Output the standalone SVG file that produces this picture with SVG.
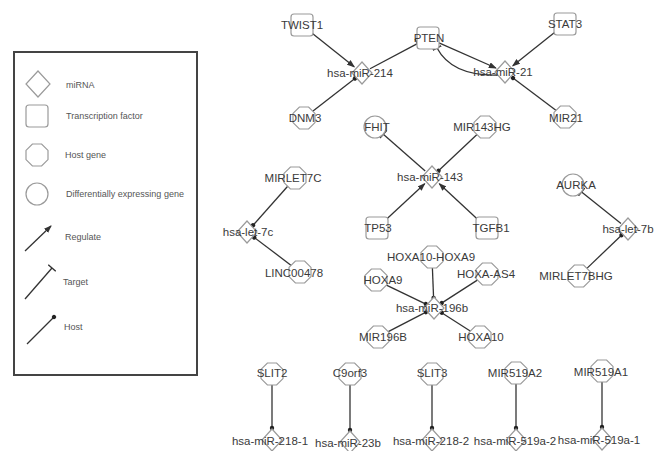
<svg xmlns="http://www.w3.org/2000/svg" width="667" height="451" viewBox="0 0 667 451">
<style>
.node{fill:#fff;stroke:#9a9a9a;stroke-width:1.2}
.lbl{font-family:"Liberation Sans",Arial,sans-serif;font-size:11.5px;fill:#3a3a3a;text-anchor:middle;dominant-baseline:central}
.leg{font-family:"Liberation Sans",Arial,sans-serif;font-size:9px;fill:#555;dominant-baseline:central}
.e{stroke:#333;stroke-width:1.3;fill:none}
.reg{marker-end:url(#arr)}
.tgt{marker-end:url(#tbar)}
.hst{marker-end:url(#dot)}
</style>
<defs>
<marker id="arr" markerUnits="userSpaceOnUse" markerWidth="8" markerHeight="6" refX="7" refY="3" orient="auto"><path d="M0,0 L8,3 L0,6 z" fill="#333"/></marker>
<marker id="tbar" markerUnits="userSpaceOnUse" markerWidth="4" markerHeight="10" refX="2" refY="5" orient="auto"><path d="M2,0 L2,10" stroke="#333" stroke-width="1.4"/></marker>
<marker id="dot" markerUnits="userSpaceOnUse" markerWidth="6" markerHeight="6" refX="3" refY="3" orient="auto"><circle cx="3" cy="3" r="2.2" fill="#222"/></marker>
<polygon id="oct" points="-4.6,-11 4.6,-11 11,-4.6 11,4.6 4.6,11 -4.6,11 -11,4.6 -11,-4.6"/>
<polygon id="dia" points="0,-11 10,0 0,11 -10,0"/>
<rect id="sq" x="-11" y="-11" width="22" height="22" rx="3"/>
<circle id="cir" r="11"/>
</defs>
<rect width="667" height="451" fill="#fff"/>

<g id="legend">
<rect x="14" y="52" width="183" height="323" fill="#fff" stroke="#444" stroke-width="2"/>
<polygon class="node" points="38,71 50,84 38,97 26,84"/>
<text class="leg" x="66" y="85">miRNA</text>
<use href="#sq" class="node" x="37" y="116"/>
<text class="leg" x="66" y="116">Transcription factor</text>
<use href="#oct" class="node" x="37" y="155"/>
<text class="leg" x="65" y="155">Host gene</text>
<use href="#cir" class="node" x="37" y="194"/>
<text class="leg" x="66" y="194">Differentially expressing gene</text>
<line class="e reg" x1="25" y1="251" x2="51" y2="226"/>
<text class="leg" x="65" y="237">Regulate</text>
<line class="e tgt" x1="25" y1="299" x2="52" y2="268"/>
<text class="leg" x="63" y="282">Target</text>
<line class="e hst" x1="27" y1="344" x2="54" y2="317"/>
<text class="leg" x="64" y="327">Host</text>
</g>

<g id="connectors">
<line class="e reg" x1="310.6" y1="31.9" x2="354.2" y2="66.8"/>
<line class="e tgt" x1="370" y1="68.8" x2="417.4" y2="43.6"/>
<line class="e hst" x1="312.7" y1="111.3" x2="354.9" y2="78.5"/>
<line class="e reg" x1="439" y1="42.8" x2="495.9" y2="68"/>
<path class="e tgt" d="M497,75 Q452,76 437,48"/>
<line class="e reg" x1="556.4" y1="30.9" x2="512.8" y2="65.8"/>
<line class="e hst" x1="556.2" y1="110.4" x2="513" y2="78"/>
<line class="e tgt" x1="425.2" y1="171.1" x2="383.3" y2="134.3"/>
<line class="e hst" x1="477" y1="134.5" x2="438.5" y2="170.8"/>
<line class="e reg" x1="385.1" y1="220.5" x2="424.7" y2="183.8"/>
<line class="e reg" x1="478.9" y1="220.5" x2="439.3" y2="183.8"/>
<line class="e hst" x1="287.7" y1="186.2" x2="253" y2="225.3"/>
<line class="e hst" x1="291.2" y1="265.4" x2="254.2" y2="237.4"/>
<line class="e tgt" x1="621" y1="223.4" x2="581.6" y2="191.9"/>
<line class="e hst" x1="586.9" y1="268.4" x2="621.5" y2="235.2"/>
<line class="e hst" x1="432.4" y1="268" x2="433.6" y2="298"/>
<line class="e hst" x1="385.9" y1="284.8" x2="425.9" y2="304.1"/>
<line class="e hst" x1="477.7" y1="279.9" x2="441.6" y2="303.1"/>
<line class="e hst" x1="387.8" y1="331.9" x2="426" y2="312.1"/>
<line class="e hst" x1="470.6" y1="331.2" x2="441.7" y2="312.7"/>
<line class="e hst" x1="272" y1="385" x2="272" y2="428"/>
<line class="e hst" x1="350" y1="385" x2="350" y2="430"/>
<line class="e hst" x1="432" y1="385" x2="432" y2="428"/>
<line class="e hst" x1="516" y1="384" x2="516" y2="428"/>
<line class="e hst" x1="602" y1="382" x2="602" y2="427"/>
</g>

<g id="n-TWIST1"><use href="#sq" class="node" x="302" y="25"/><text class="lbl" x="302" y="25">TWIST1</text></g>
<g id="n-PTEN"><use href="#sq" class="node" x="428" y="38"/><text class="lbl" x="429" y="38">PTEN</text></g>
<g id="n-miR214"><use href="#dia" class="node" x="362" y="73"/><text class="lbl" x="360" y="73">hsa-miR-214</text></g>
<g id="n-DNM3"><use href="#oct" class="node" x="304" y="118"/><text class="lbl" x="305" y="118">DNM3</text></g>
<g id="n-STAT3"><use href="#sq" class="node" x="565" y="24"/><text class="lbl" x="565" y="24">STAT3</text></g>
<g id="n-miR21"><use href="#dia" class="node" x="505" y="72"/><text class="lbl" x="503" y="72">hsa-miR-21</text></g>
<g id="n-MIR21"><use href="#oct" class="node" x="565" y="117"/><text class="lbl" x="566" y="118">MIR21</text></g>
<g id="n-FHIT"><use href="#cir" class="node" x="375" y="127"/><text class="lbl" x="377" y="127">FHIT</text></g>
<g id="n-MIR143HG"><use href="#oct" class="node" x="485" y="127"/><text class="lbl" x="482" y="127">MIR143HG</text></g>
<g id="n-miR143"><use href="#dia" class="node" x="432" y="177"/><text class="lbl" x="430" y="177">hsa-miR-143</text></g>
<g id="n-TP53"><use href="#sq" class="node" x="377" y="228"/><text class="lbl" x="378" y="228">TP53</text></g>
<g id="n-TGFB1"><use href="#sq" class="node" x="487" y="228"/><text class="lbl" x="491" y="228">TGFB1</text></g>
<g id="n-MIRLET7C"><use href="#oct" class="node" x="295" y="178"/><text class="lbl" x="293" y="178">MIRLET7C</text></g>
<g id="n-let7c"><use href="#dia" class="node" x="247" y="232"/><text class="lbl" x="248" y="232">hsa-let-7c</text></g>
<g id="n-LINC00478"><use href="#oct" class="node" x="300" y="272"/><text class="lbl" x="294" y="273">LINC00478</text></g>
<g id="n-AURKA"><use href="#cir" class="node" x="573" y="185"/><text class="lbl" x="576" y="185">AURKA</text></g>
<g id="n-let7b"><use href="#dia" class="node" x="628" y="229"/><text class="lbl" x="628" y="229">hsa-let-7b</text></g>
<g id="n-MIRLET7BHG"><use href="#oct" class="node" x="579" y="276"/><text class="lbl" x="576" y="276">MIRLET7BHG</text></g>
<g id="n-HOXA10-HOXA9"><use href="#oct" class="node" x="432" y="257"/><text class="lbl" x="431" y="257">HOXA10-HOXA9</text></g>
<g id="n-HOXA9"><use href="#oct" class="node" x="376" y="280"/><text class="lbl" x="383" y="280">HOXA9</text></g>
<g id="n-HOXA-AS4"><use href="#oct" class="node" x="487" y="274"/><text class="lbl" x="486" y="274">HOXA-AS4</text></g>
<g id="n-miR196b"><use href="#dia" class="node" x="434" y="308"/><text class="lbl" x="432" y="308">hsa-miR-196b</text></g>
<g id="n-MIR196B"><use href="#oct" class="node" x="378" y="337"/><text class="lbl" x="383" y="337">MIR196B</text></g>
<g id="n-HOXA10"><use href="#oct" class="node" x="480" y="337"/><text class="lbl" x="481" y="337">HOXA10</text></g>

<g id="n-SLIT2"><use href="#oct" class="node" x="272" y="374"/><text class="lbl" x="272" y="373">SLIT2</text></g>
<g id="n-C9orf3"><use href="#oct" class="node" x="350" y="374"/><text class="lbl" x="350" y="373">C9orf3</text></g>
<g id="n-SLIT3"><use href="#oct" class="node" x="432" y="374"/><text class="lbl" x="432" y="373">SLIT3</text></g>
<g id="n-MIR519A2"><use href="#oct" class="node" x="516" y="373"/><text class="lbl" x="515" y="373">MIR519A2</text></g>
<g id="n-MIR519A1"><use href="#oct" class="node" x="602" y="371"/><text class="lbl" x="601" y="372">MIR519A1</text></g>
<g id="n-miR218-1"><use href="#dia" class="node" x="272" y="440"/><text class="lbl" x="270" y="441">hsa-miR-218-1</text></g>
<g id="n-miR23b"><use href="#dia" class="node" x="350" y="442"/><text class="lbl" x="348" y="443">hsa-miR-23b</text></g>
<g id="n-miR218-2"><use href="#dia" class="node" x="432" y="440"/><text class="lbl" x="431" y="441">hsa-miR-218-2</text></g>
<g id="n-miR519a-2"><use href="#dia" class="node" x="516" y="440"/><text class="lbl" x="515" y="441">hsa-miR-519a-2</text></g>
<g id="n-miR519a-1"><use href="#dia" class="node" x="602" y="439"/><text class="lbl" x="599" y="440">hsa-miR-519a-1</text></g>
</svg>
